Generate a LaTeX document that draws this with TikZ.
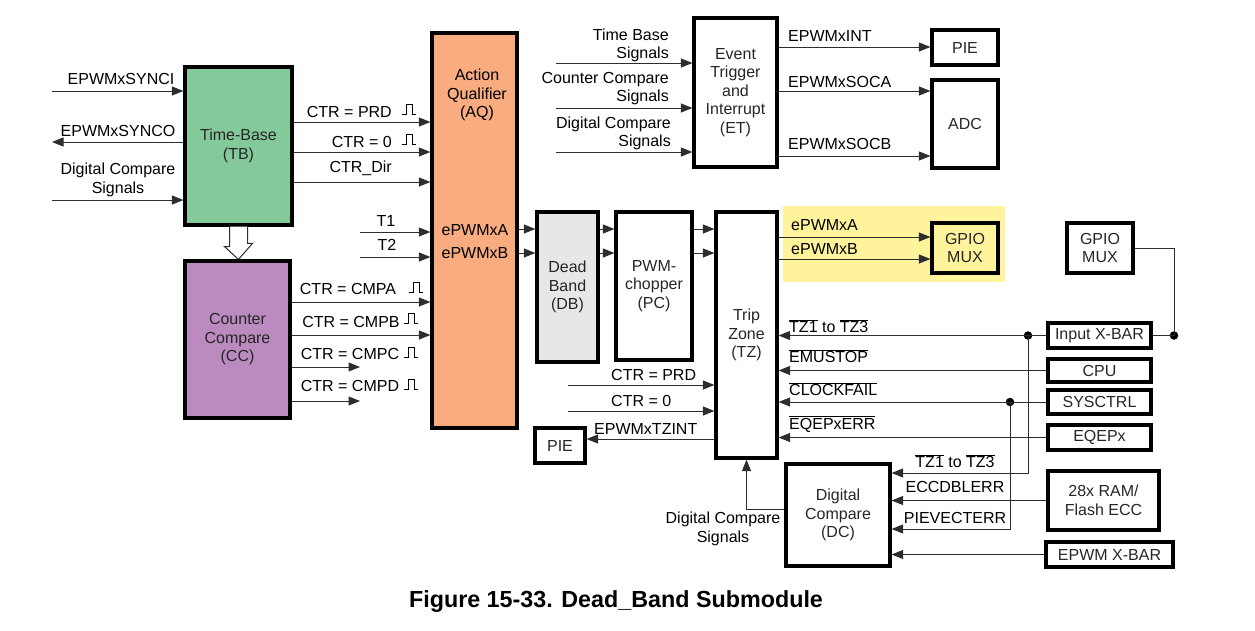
\documentclass[tikz,border=0pt]{standalone}
\usepackage{fontspec}
\setmainfont{Liberation Sans}
\usetikzlibrary{arrows.meta}
\definecolor{tbgreen}{RGB}{132,201,154}
\definecolor{ccpurple}{RGB}{187,138,191}
\definecolor{aqorange}{RGB}{249,172,128}
\definecolor{dbgray}{RGB}{230,231,232}
\definecolor{muxyellow}{RGB}{255,243,155}
\definecolor{wiregray}{RGB}{45,45,45}
\newcommand{\ovl}[1]{$\overline{\mbox{#1}}$}
\tikzset{pulse/.pic={\draw[line width=0.8pt] (0,0) -- (4,0) -- (4,-10) -- (10,-10) -- (10,0) -- (14,0);}}
\begin{document}
\begin{tikzpicture}[x=1pt, y=-1pt, font=\fontsize{16}{18.5}\selectfont,
  box/.style={draw=black, line width=3.2pt, inner sep=0pt, align=center, text=black!85},
  sig/.style={draw=wiregray, line width=1pt, -{Triangle[length=11.5pt,width=9pt]}},
  wire/.style={draw=wiregray, line width=1pt},
  lbl/.style={inner sep=0pt, align=center},
  dot/.style={circle, fill=black, inner sep=0pt, minimum size=8.5pt}]
  \useasboundingbox (0,0) rectangle (1255,630);
  \fill[muxyellow] (783,206) rectangle (1005,282);

  \node[box, fill=tbgreen, minimum width=107pt, minimum height=158pt] (tb) at (238.5,146) {Time-Base\\(TB)};
  \node[box, fill=ccpurple, minimum width=105pt, minimum height=157pt] (cc) at (237.5,339.5) {Counter\\Compare\\(CC)};
  \node[box, fill=aqorange, minimum width=85pt, minimum height=395pt] (aq) at (474.5,230.5) {};
  \node[lbl] (aqL) at (477,95) {Action\\Qualifier\\(AQ)};
  \node[lbl] (aqA) at (475,230) {ePWMxA};
  \node[lbl] (aqB) at (475,253) {ePWMxB};
  \node[box, fill=dbgray, minimum width=61pt, minimum height=150pt] (db) at (567.5,287) {Dead\\Band\\(DB)};
  \node[box, minimum width=76pt, minimum height=148pt] (pc) at (654,286) {PWM-\\chopper\\(PC)};
  \node[box, minimum width=61pt, minimum height=246pt] (tz) at (746.5,335) {Trip\\Zone\\(TZ)};
  \node[box, minimum width=83pt, minimum height=149pt] (et) at (735.5,92.5) {Event\\Trigger\\and\\Interrupt\\(ET)};
  \node[box, minimum width=66pt, minimum height=35pt] (pie1) at (965,47.5) {PIE};
  \node[box, minimum width=66pt, minimum height=88pt] (adc) at (965,124) {ADC};
  \node[box, fill=muxyellow, minimum width=66pt, minimum height=50pt] (gpio1) at (965,248) {GPIO\\MUX};
  \node[box, minimum width=66pt, minimum height=50pt] (gpio2) at (1100,248) {GPIO\\MUX};
  \node[box, minimum width=103pt, minimum height=25pt] (ixbar) at (1099.5,335.5) {Input X-BAR};
  \node[box, minimum width=103pt, minimum height=23pt] (cpu) at (1099.5,370.5) {CPU};
  \node[box, minimum width=103pt, minimum height=24pt] (sysctrl) at (1099.5,402) {SYSCTRL};
  \node[box, minimum width=103pt, minimum height=25pt] (eqepx) at (1099.5,437.5) {EQEPx};
  \node[box, minimum width=111pt, minimum height=59pt] (ram) at (1103.5,500.5) {28x RAM/\\Flash ECC};
  \node[box, minimum width=127pt, minimum height=25pt] (xbar) at (1109.5,554.5) {EPWM X-BAR};
  \node[box, minimum width=104pt, minimum height=102pt] (dc) at (838,515) {Digital\\Compare\\(DC)};
  \node[box, minimum width=50pt, minimum height=35pt] (pie2) at (560,445.5) {PIE};

  \coordinate (synci) at (52,91);
  \coordinate (synco) at (52,142);
  \coordinate (dcsig) at (52,200);
  \coordinate (t1) at (360,232);
  \coordinate (t2) at (360,257);
  \coordinate (cmpc) at (360,367);
  \coordinate (cmpd) at (360,401);
  \coordinate (ettb) at (556,63);
  \coordinate (etcc) at (556,108);
  \coordinate (etdc) at (556,152);
  \coordinate (tzprd) at (568,385);
  \coordinate (tzzero) at (568,411);
  \node[dot] (j1) at (1028,335.5) {};
  \node[dot] (j2) at (1010,402) {};
  \node[dot] (j3) at (1174,335.5) {};

  \draw[sig] (synci) -- (tb.west |- synci);
  \draw[sig] (tb.west |- synco) -- (synco);
  \draw[sig] (dcsig) -- (tb.west |- dcsig);
  \draw[sig] (tb.east |- 0,122) -- (aq.west |- 0,122);
  \draw[sig] (tb.east |- 0,152) -- (aq.west |- 0,152);
  \draw[sig] (tb.east |- 0,182) -- (aq.west |- 0,182);
  \draw[sig] (t1) -- (aq.west |- t1);
  \draw[sig] (t2) -- (aq.west |- t2);
  \draw[sig] (cc.east |- 0,302) -- (aq.west |- 0,302);
  \draw[sig] (cc.east |- 0,335) -- (aq.west |- 0,335);
  \draw[sig] (cc.east |- cmpc) -- (cmpc);
  \draw[sig] (cc.east |- cmpd) -- (cmpd);
  \draw[wire, fill=white] ([xshift=-9pt]tb.south) -- ++(0,20) -- ++(-5,0) -- (tb.south |- cc.north)
    -- ++(14,-16) -- ++(-5,0) -- ([xshift=9pt]tb.south);
  \foreach \row in {229,253} {
    \draw[sig] (aq.east |- 0,\row) -- (db.west |- 0,\row);
    \draw[sig] (db.east |- 0,\row) -- (pc.west |- 0,\row);
    \draw[sig] (pc.east |- 0,\row) -- (tz.west |- 0,\row);
  }
  \draw[sig] (tz.east |- 0,237) -- (gpio1.west |- 0,237);
  \draw[sig] (tz.east |- 0,259) -- (gpio1.west |- 0,259);
  \draw[sig] (ettb) -- (et.west |- ettb);
  \draw[sig] (etcc) -- (et.west |- etcc);
  \draw[sig] (etdc) -- (et.west |- etdc);
  \draw[sig] (et.east |- 0,47) -- (pie1.west |- 0,47);
  \draw[sig] (et.east |- 0,91) -- (adc.west |- 0,91);
  \draw[sig] (et.east |- 0,156) -- (adc.west |- 0,156);
  \draw[sig] (tzprd) -- (tz.west |- tzprd);
  \draw[sig] (tzzero) -- (tz.west |- tzzero);
  \draw[sig] (tz.west |- 0,439) -- (pie2.east |- 0,439);
  \draw[sig] (ixbar.west) -- (tz.east |- ixbar.west);
  \draw[sig] (cpu.west) -- (tz.east |- cpu.west);
  \draw[sig] (sysctrl.west) -- (tz.east |- sysctrl.west);
  \draw[sig] (eqepx.west) -- (tz.east |- eqepx.west);
  \draw[wire] (gpio2.east) -| (j3.center) -- (ixbar.east);
  \draw[sig] (j1.center) |- (dc.east |- 0,473);
  \draw[sig] (j2.center) |- (dc.east |- 0,529);
  \draw[sig] (ram.west) -- (dc.east |- ram.west);
  \draw[sig] (xbar.west) -- (dc.east |- xbar.west);
  \draw[sig] (dc.west |- 0,509) -| (tz.south);

  \node[lbl] (synciL) at (121,79) {EPWMxSYNCI};
  \node[lbl] (syncoL) at (118,131) {EPWMxSYNCO};
  \node[lbl] (dcsigL) at (118,180) {Digital Compare\\Signals};
  \node[lbl, anchor=east] (prdL) at (392,112) {CTR = PRD};
  \node[lbl, anchor=east] (zeroL) at (392,142) {CTR = 0};
  \node[lbl, anchor=east] (dirL) at (392,168) {CTR\_Dir};
  \node[lbl] (t1L) at (386,221) {T1};
  \node[lbl] (t2L) at (387,245) {T2};
  \node[lbl] (cmpaL) at (348,289) {CTR = CMPA};
  \node[lbl] (cmpbL) at (351,322) {CTR = CMPB};
  \node[lbl] (cmpcL) at (350,354) {CTR = CMPC};
  \node[lbl] (cmpdL) at (350,386) {CTR = CMPD};
  \pic at (402,114) {pulse};
  \pic at (402,144) {pulse};
  \pic at (409,292) {pulse};
  \pic at (404,323) {pulse};
  \pic at (404,357) {pulse};
  \pic at (404,389) {pulse};
  \node[lbl, anchor=east, align=right] (ettbL) at (669,45.5) {Time Base\\Signals};
  \node[lbl, anchor=east, align=right] (etccL) at (669,88.5) {Counter Compare\\Signals};
  \node[lbl, anchor=east, align=right] (etdcL) at (671,133.5) {Digital Compare\\Signals};
  \node[lbl, anchor=west] (intL) at (788,36) {EPWMxINT};
  \node[lbl, anchor=west] (socaL) at (788,82) {EPWMxSOCA};
  \node[lbl, anchor=west] (socbL) at (788,144) {EPWMxSOCB};
  \node[lbl, anchor=west] (tzprdL) at (611,375) {CTR = PRD};
  \node[lbl, anchor=west] (tzzeroL) at (611,401) {CTR = 0};
  \node[lbl, anchor=west] (tzintL) at (594,429) {EPWMxTZINT};
  \node[lbl, anchor=west] (outAL) at (791,225) {ePWMxA};
  \node[lbl, anchor=west] (outBL) at (791,249) {ePWMxB};
  \node[lbl, anchor=west] (tzinL) at (789,326) {\ovl{TZ1} to \ovl{TZ3}};
  \node[lbl, anchor=west] (emuL) at (789,356) {\ovl{EMUSTOP}};
  \node[lbl, anchor=west] (clkL) at (789,389) {\ovl{CLOCKFAIL}};
  \node[lbl, anchor=west] (eqepL) at (789,424) {\ovl{EQEPxERR}};
  \node[lbl] (dctzL) at (955,461) {\ovl{TZ1} to \ovl{TZ3}};
  \node[lbl] (eccL) at (955,487) {ECCDBLERR};
  \node[lbl] (pievL) at (955,518) {PIEVECTERR};
  \node[lbl] (dcoutL) at (723,529) {Digital Compare\\Signals};
  \node[font=\fontsize{23.3}{27}\selectfont\bfseries] (title) at (616,602) {Figure 15-33. Dead\_Band Submodule};
\end{tikzpicture}
\end{document}
